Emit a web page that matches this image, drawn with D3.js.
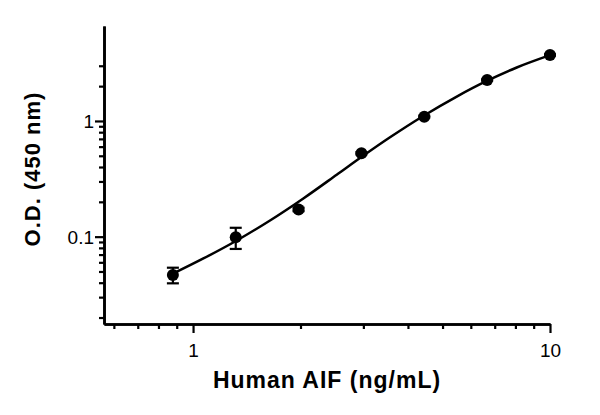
<!DOCTYPE html>
<html>
<head>
<meta charset="utf-8">
<script src="https://cdn.jsdelivr.net/npm/d3@7"></script>
<style>
  body { margin: 0; background: #fff; }
  svg { display: block; }
</style>
</head>
<body>
<div id="chart"></div>
<script>
// measured points (mean O.D. and error)
const conc = [0.878, 1.317, 1.975, 2.963, 4.444, 6.667, 10];
const od = [0.0467, 0.0988, 0.172, 0.526, 1.09, 2.26, 3.72];
const odErr = [0.0072, 0.0205, 0.006, 0.012, 0.02, 0.03, 0.05];

// fitted curve
const fitConc = [0.881, 1.069, 1.326, 1.643, 2.037, 2.526, 2.969, 3.563, 4.416, 5.48, 6.65, 8.07, 10];
const fitOd = [0.0481, 0.0648, 0.0927, 0.138, 0.2139, 0.3428, 0.4904, 0.7229, 1.105, 1.625, 2.217, 2.90, 3.705];

// ticks
const xMajor = [1, 10];
const xMinor = [0.6, 0.7, 0.8, 0.9, 2, 3, 4, 5, 6, 7, 8, 9];
const yMajor = [0.1, 1];
const yMinor = [0.02, 0.03, 0.04, 0.05, 0.06, 0.07, 0.08, 0.09,
                0.2, 0.3, 0.4, 0.5, 0.6, 0.7, 0.8, 0.9, 2, 3];

const width = 600;
const height = 415;
const plot = { left: 104, right: 550, top: 26, bottom: 324 };

const svg = d3.select("#chart").append("svg")
    .attr("width", width)
    .attr("height", height)
    .attr("viewBox", [0, 0, width, height]);

const x = d3.scaleLog().domain([0.563, 10]).range([plot.left, plot.right]);
const y = d3.scaleLog().domain([0.01758, 6.62]).range([plot.bottom, plot.top]);

const font = "'Liberation Sans', Arial, sans-serif";

// x axis: minor ticks first, then major with labels
svg.append("g")
    .attr("transform", `translate(0,${plot.bottom})`)
    .call(d3.axisBottom(x).tickValues(xMinor).tickSize(5).tickSizeOuter(0).tickFormat(""))
    .call(g => g.selectAll("text").remove());

svg.append("g")
    .attr("transform", `translate(0,${plot.bottom})`)
    .call(d3.axisBottom(x).tickValues(xMajor).tickSize(9).tickSizeOuter(0).tickFormat(d => d))
    .call(g => g.selectAll("text")
        .attr("y", 20)
        .attr("dy", "0.71em")
        .style("font-family", font)
        .style("font-size", "19px")
        .attr("fill", "#000"));

// y axis
svg.append("g")
    .attr("transform", `translate(${plot.left},0)`)
    .call(d3.axisLeft(y).tickValues(yMinor).tickSize(5).tickSizeOuter(0).tickFormat(""));

svg.append("g")
    .attr("transform", `translate(${plot.left},0)`)
    .call(d3.axisLeft(y).tickValues(yMajor).tickSize(9).tickSizeOuter(0).tickFormat(d => d))
    .call(g => g.selectAll("text")
        .attr("x", -10)
        .attr("dy", "0.36em")
        .style("font-family", font)
        .style("font-size", "19px")
        .attr("fill", "#000"));

svg.selectAll(".domain").attr("stroke", "#000").attr("stroke-width", 2.6);
svg.selectAll(".tick line").attr("stroke", "#000").attr("stroke-width", 2.2);

// fitted curve
const line = d3.line()
    .x(d => x(d[0]))
    .y(d => y(d[1]))
    .curve(d3.curveCatmullRom.alpha(0.5));

svg.append("path")
    .datum(d3.zip(fitConc, fitOd))
    .attr("d", line)
    .attr("fill", "none")
    .attr("stroke", "#000")
    .attr("stroke-width", 2.5);

// error bars
const points = d3.zip(conc, od, odErr);
const capW = 6;
const err = svg.append("g").attr("stroke", "#000").attr("stroke-width", 2.2);
err.selectAll("line.bar")
    .data(points)
    .join("line")
    .attr("class", "bar")
    .attr("x1", d => x(d[0])).attr("x2", d => x(d[0]))
    .attr("y1", d => y(d[1] - d[2])).attr("y2", d => y(d[1] + d[2]));
err.selectAll("line.capTop")
    .data(points)
    .join("line")
    .attr("class", "capTop")
    .attr("x1", d => x(d[0]) - capW).attr("x2", d => x(d[0]) + capW)
    .attr("y1", d => y(d[1] + d[2])).attr("y2", d => y(d[1] + d[2]));
err.selectAll("line.capBot")
    .data(points)
    .join("line")
    .attr("class", "capBot")
    .attr("x1", d => x(d[0]) - capW).attr("x2", d => x(d[0]) + capW)
    .attr("y1", d => y(d[1] - d[2])).attr("y2", d => y(d[1] - d[2]));

// points
svg.append("g")
    .selectAll("circle")
    .data(points)
    .join("circle")
    .attr("cx", d => x(d[0]))
    .attr("cy", d => y(d[1]))
    .attr("r", 6)
    .attr("fill", "#000");

// axis titles
svg.append("text")
    .attr("x", 327)
    .attr("y", 388)
    .attr("text-anchor", "middle")
    .style("font-family", font)
    .style("font-size", "23px")
    .style("font-weight", "bold")
    .style("letter-spacing", "1px")
    .text("Human AIF (ng/mL)");

svg.append("text")
    .attr("transform", "translate(39.5,169) rotate(-90)")
    .attr("text-anchor", "middle")
    .style("font-family", font)
    .style("font-size", "22px")
    .style("font-weight", "bold")
    .style("letter-spacing", "1px")
    .text("O.D. (450 nm)");
</script>
</body>
</html>
